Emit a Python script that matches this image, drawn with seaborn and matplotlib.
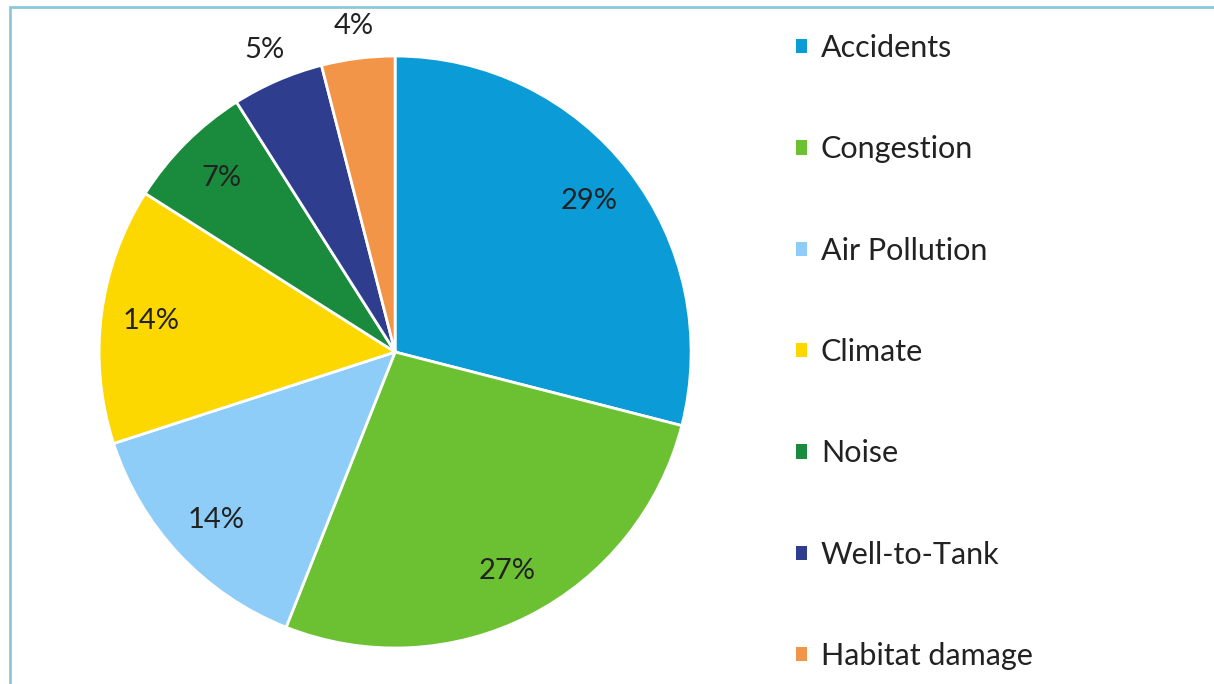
import numpy as np
import matplotlib
matplotlib.use("Agg")
import matplotlib.pyplot as plt
import seaborn as sns
from matplotlib.lines import Line2D
from matplotlib.patches import Rectangle

categories = ["Accidents", "Congestion", "Air Pollution", "Climate", "Noise", "Well-to-Tank", "Habitat damage"]
values = [29, 27, 14, 14, 7, 5, 4]
pct_labels = ["29%", "27%", "14%", "14%", "7%", "5%", "4%"]
colors = ["#0B9BD7", "#6CC133", "#8DCDF7", "#FDD700", "#1A8B3C", "#2F3D8F", "#F39548"]

sns.set_theme(style="white")
plt.rcParams['font.family'] = ['Lato', 'DejaVu Sans']

fig = plt.figure(figsize=(12.14, 6.84), dpi=100)
ax = fig.add_axes([0.0816, 0.0526, 0.4877, 0.8655])

wedges, _ = ax.pie(values, colors=colors, startangle=90, counterclock=False,
                   wedgeprops=dict(edgecolor="white", linewidth=2))
ax.set_xlim(-1, 1)
ax.set_ylim(-1, 1)
ax.set_aspect("equal")

for w, lab, v in zip(wedges, pct_labels, values):
    ang = np.deg2rad((w.theta1 + w.theta2) / 2)
    r = 0.83 if v > 6 else 1.11
    ax.text(r * np.cos(ang), r * np.sin(ang), lab, ha="center", va="center",
            fontsize=21, color="#222222", clip_on=False)

handles = [Rectangle((0, 0), 1, 1, facecolor=c, edgecolor="none") for c in colors]
leg = fig.legend(handles, categories, loc="upper left", bbox_to_anchor=(0.646, 0.968),
                 frameon=False, fontsize=22, handlelength=0.35, handleheight=0.35,
                 handletextpad=0.45, labelspacing=2.40, borderaxespad=0)
for t in leg.get_texts():
    t.set_color("#222222")

# frame lines (top and left)
fig.add_artist(Line2D([10/1214, 1], [1 - 7/684, 1 - 7/684], transform=fig.transFigure,
                      color="#8CC8DA", linewidth=2))
fig.add_artist(Line2D([10/1214, 10/1214], [0, 1 - 7/684], transform=fig.transFigure,
                      color="#8CC8DA", linewidth=2))

fig.savefig("out.png", dpi=100)
